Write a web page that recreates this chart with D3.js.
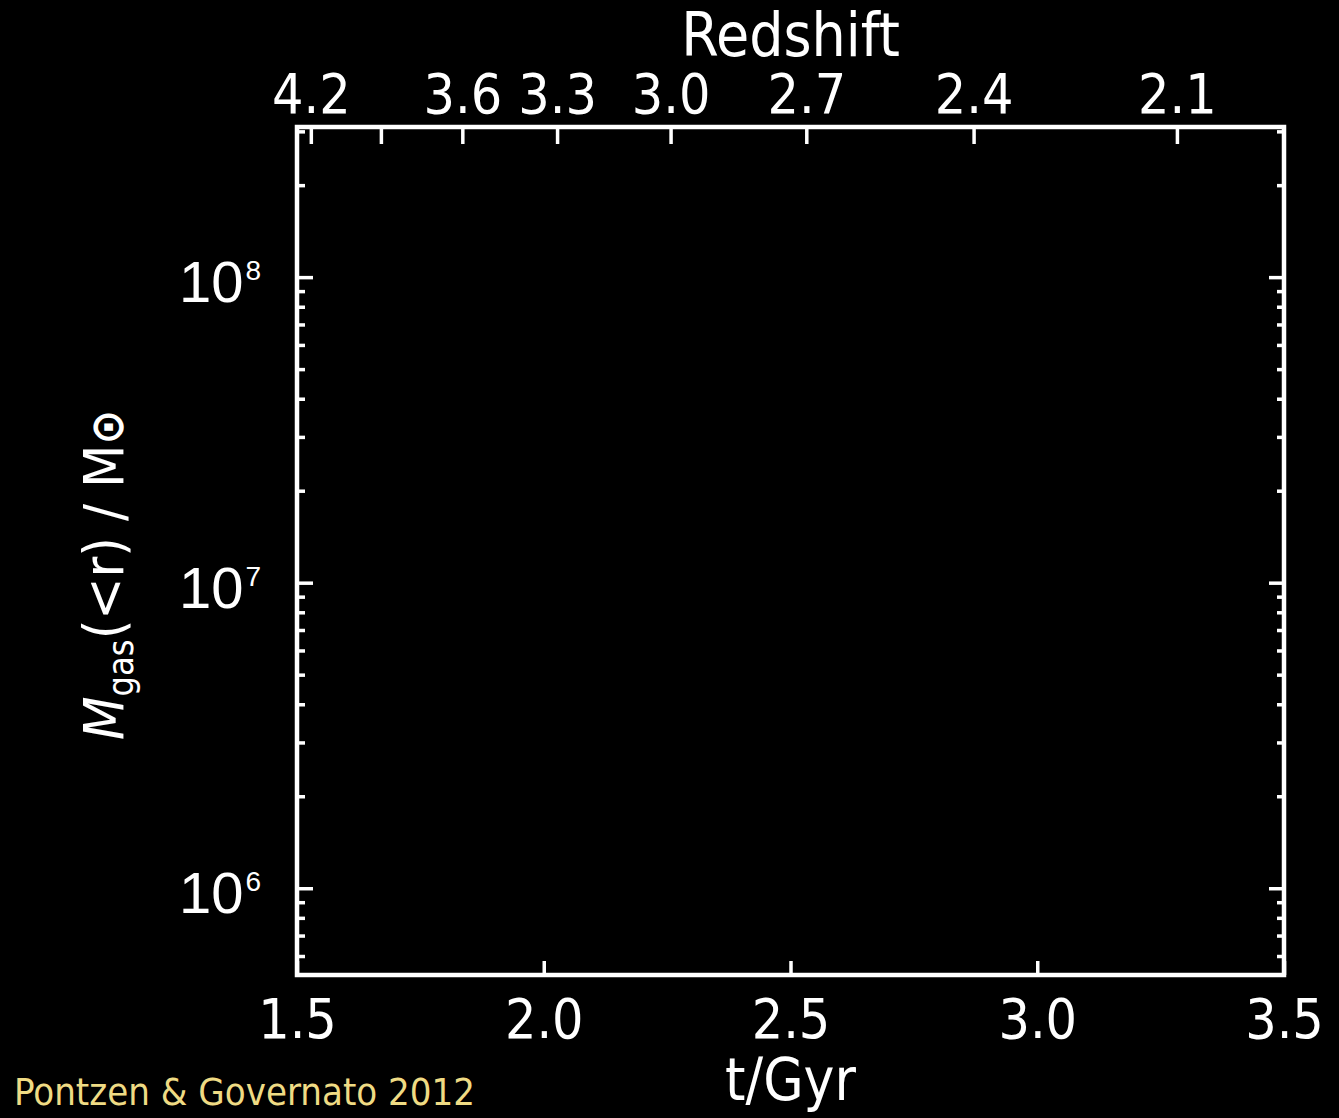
<!DOCTYPE html>
<html>
<head>
<meta charset="utf-8">
<style>
  body { margin: 0; background: #000; }
  svg { display: block; }
  .tick line { stroke: #fff; stroke-width: 3.5; }
  .tick text { fill: #fff; }
</style>
</head>
<body>
<svg width="1339" height="1118"></svg>
<script src="https://d3js.org/d3.v7.min.js"></script>
<script>

// Empty gas-mass vs time frame, with redshift on the top axis

var timeDomain = [1.5, 3.5];
var timeTicks = [1.5, 2.0, 2.5, 3.0, 3.5];
var massDomain = [5.2e5, 3.1e8];
var massMajor = [1e6, 1e7, 1e8];
var massMinor = [6e5, 7e5, 8e5, 9e5,
                 2e6, 3e6, 4e6, 5e6, 6e6, 7e6, 8e6, 9e6,
                 2e7, 3e7, 4e7, 5e7, 6e7, 7e7, 8e7, 9e7,
                 2e8, 3e8];
var redshiftLabels = ["4.2", "", "3.6", "3.3", "3.0", "2.7", "2.4", "2.1"];
var redshiftTimes = [1.528, 1.670, 1.835, 2.027, 2.257, 2.532, 2.871, 3.283];

var svg = d3.select("svg"),
    margin = {top: 127, right: 55, bottom: 143, left: 297},
    width = +svg.attr("width") - margin.left - margin.right,
    height = +svg.attr("height") - margin.top - margin.bottom,
    g = svg.append("g").attr("transform", "translate(" + margin.left + "," + margin.top + ")");

svg.insert("rect", ":first-child")
    .attr("width", 1339).attr("height", 1118).attr("fill", "#000");

var x = d3.scaleLinear().domain(timeDomain).range([0, width]);
var y = d3.scaleLog().domain(massDomain).range([height, 0]);

var numFont = "'DejaVu Sans Condensed', 'DejaVu Sans', sans-serif";

// bottom axis: time
var xb = g.append("g")
    .attr("transform", "translate(0," + height + ")")
    .call(d3.axisBottom(x).tickValues(timeTicks).tickSize(-14).tickPadding(24)
      .tickFormat(d3.format(".1f")));
xb.select(".domain").remove();
xb.selectAll("text").attr("font-family", numFont).attr("font-size", 55).attr("dy", "0.71em");

// top axis: redshift
var xt = g.append("g")
    .call(d3.axisTop(x).tickValues(redshiftTimes).tickSize(-17).tickPadding(14)
      .tickFormat(function(d, i) { return redshiftLabels[i]; }));
xt.select(".domain").remove();
xt.selectAll("text").attr("font-family", numFont).attr("font-size", 55);

// left axis major + minor
var yl = g.append("g")
    .call(d3.axisLeft(y).tickValues(massMajor).tickSize(-16).tickPadding(36).tickFormat(""));
yl.select(".domain").remove();
yl.selectAll(".tick text")
    .attr("font-family", "'Liberation Sans', Arial, sans-serif")
    .attr("font-size", 58)
    .attr("dy", "0.42em")
    .each(function(d) {
      var t = d3.select(this);
      t.append("tspan").text("10");
      t.append("tspan").attr("font-size", 28).attr("dy", -22).attr("dx", 2)
        .text(Math.round(Math.log10(d)));
    });

var ylm = g.append("g")
    .call(d3.axisLeft(y).tickValues(massMinor).tickSize(-8).tickFormat(""));
ylm.select(".domain").remove();

// right axis major + minor
var yr = g.append("g")
    .attr("transform", "translate(" + width + ",0)")
    .call(d3.axisRight(y).tickValues(massMajor).tickSize(-15).tickFormat(""));
yr.select(".domain").remove();
var yrm = g.append("g")
    .attr("transform", "translate(" + width + ",0)")
    .call(d3.axisRight(y).tickValues(massMinor).tickSize(-7).tickFormat(""));
yrm.select(".domain").remove();

// frame
g.append("rect")
    .attr("width", width).attr("height", height)
    .attr("fill", "none").attr("stroke", "#fff").attr("stroke-width", 4.5);

// axis titles
svg.append("text")
    .attr("x", margin.left + width / 2).attr("y", 56)
    .attr("text-anchor", "middle")
    .attr("font-family", numFont).attr("font-size", 60).attr("fill", "#fff")
    .text("Redshift");

svg.append("text")
    .attr("x", margin.left + width / 2).attr("y", 1100)
    .attr("text-anchor", "middle")
    .attr("font-family", numFont).attr("font-size", 58).attr("fill", "#fff")
    .text("t/Gyr");

var yt = svg.append("text")
    .attr("transform", "translate(123,575) rotate(-90)")
    .attr("text-anchor", "middle")
    .attr("font-family", "'DejaVu Sans Condensed', 'DejaVu Sans', sans-serif")
    .attr("font-size", 56).attr("fill", "#fff");
yt.append("tspan").attr("font-style", "italic").text("M");
yt.append("tspan").attr("font-size", 36).attr("dy", 10).text("gas");
yt.append("tspan").attr("dy", -10).text("(<r) / M");
yt.append("tspan").attr("font-size", 46).attr("font-weight", "bold").text("\u2299");

// credit
svg.append("text")
    .attr("x", 14).attr("y", 1105)
    .attr("font-family", numFont).attr("font-size", 38).attr("fill", "#efdb84")
    .text("Pontzen & Governato 2012");

</script>
</body>
</html>
